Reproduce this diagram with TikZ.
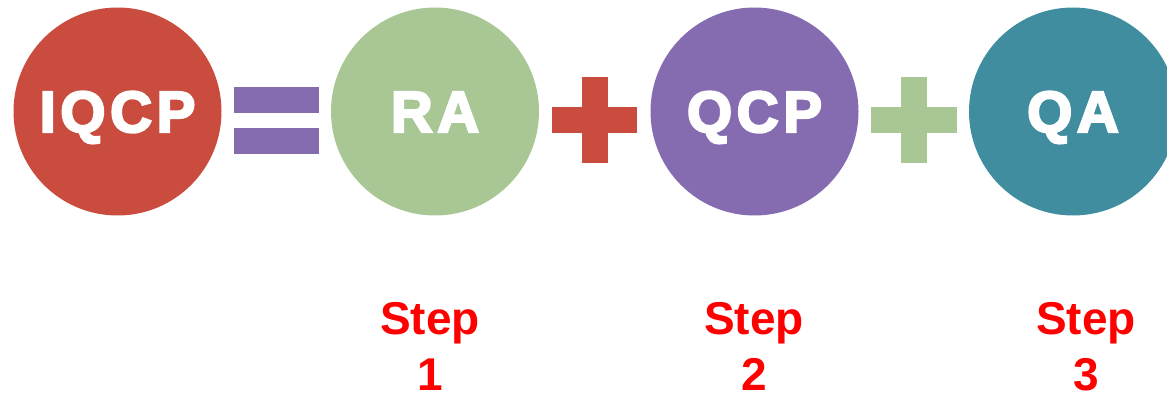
\documentclass[tikz,border=0pt]{standalone}
\usepackage{fontspec}
\setmainfont{Liberation Sans}
\newfontfamily\heavyfont{Liberation Sans Bold}[FakeBold=4,LetterSpace=8]
\definecolor{cred}{HTML}{C94C3E}
\definecolor{cgreen}{HTML}{A9C795}
\definecolor{cpurple}{HTML}{856CB0}
\definecolor{cteal}{HTML}{418DA0}
\definecolor{stepred}{HTML}{FF0000}
\tikzset{
  ball/.style={circle, minimum size=208pt, inner sep=0pt, text=white,
    text height=41pt, text depth=0pt,
    font=\heavyfont\fontsize{58}{58}\selectfont},
  steplabel/.style={anchor=north, inner sep=0pt, align=center, text=stepred,
    font=\bfseries\fontsize{46}{56}\selectfont},
}
\begin{document}
\begin{tikzpicture}[x=1pt,y=-1pt]
\useasboundingbox (0,0) rectangle (1167,396);
% operands
\node[ball, fill=cred]    (iqcp) at (117.5,111.5) {IQCP};
\node[ball, fill=cgreen]  (ra)   at (435,111.5)   {RA};
\node[ball, fill=cpurple] (qcp)  at (754.5,111.5) {QCP};
\node[ball, fill=cteal]   (qa)   at (1073,111.5)  {QA};
% equals sign
\fill[cpurple] (234,87) rectangle (319,113);
\fill[cpurple] (234,128) rectangle (319,154);
% plus signs
\fill[cred] (552,107) rectangle (637,133);
\fill[cred] (582,77) rectangle (608,163);
\fill[cgreen] (871,107) rectangle (957,133);
\fill[cgreen] (901,77) rectangle (927,163);
% step labels
\node[steplabel] (s1) at (430,302) {Step\\1};
\node[steplabel] (s2) at (754,302) {Step\\2};
\node[steplabel] (s3) at (1086,302) {Step\\3};
\end{tikzpicture}
\end{document}
